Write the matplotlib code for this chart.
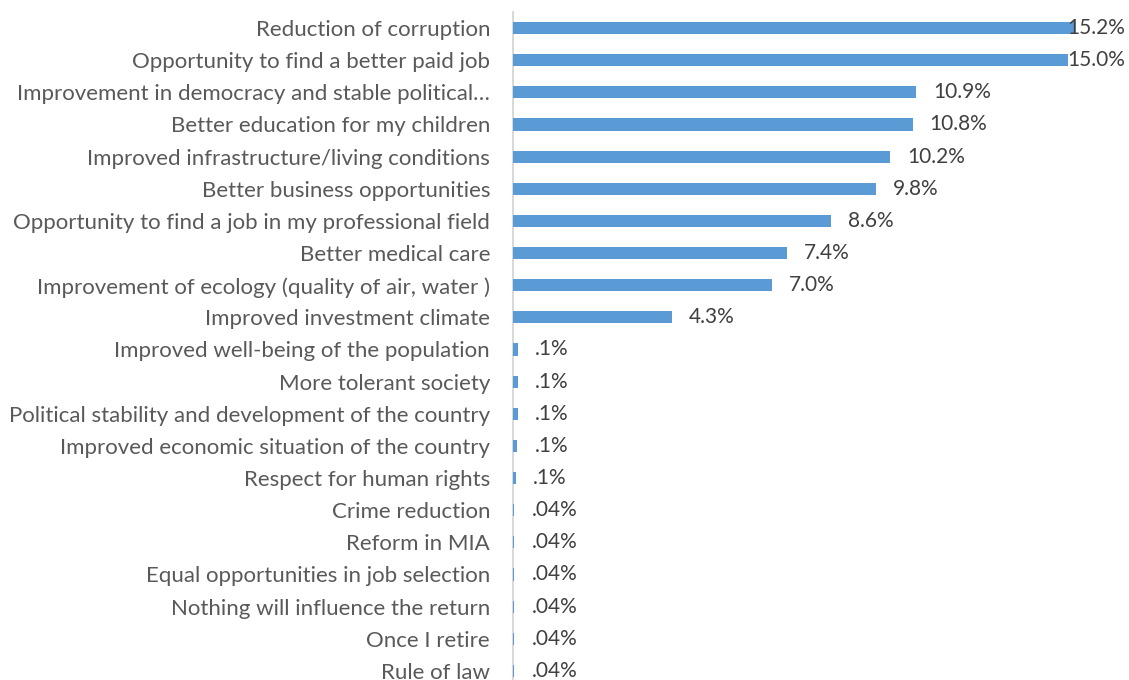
import matplotlib.pyplot as plt

labels = ["Reduction of corruption",
          "Opportunity to find a better paid job",
          "Improvement in democracy and stable political\u2026",
          "Better education for my children",
          "Improved infrastructure/living conditions",
          "Better business opportunities",
          "Opportunity to find a job in my professional field",
          "Better medical care",
          "Improvement of ecology (quality of air, water )",
          "Improved investment climate",
          "Improved well-being of the population",
          "More tolerant society",
          "Political stability and development of the country",
          "Improved economic situation of the country",
          "Respect for human rights",
          "Crime reduction",
          "Reform in MIA",
          "Equal opportunities in job selection",
          "Nothing will influence the return",
          "Once I retire",
          "Rule of law"]
values = [15.2, 15.0, 10.9, 10.8, 10.2, 9.8, 8.6, 7.4, 7.0, 4.3,
          0.14, 0.14, 0.14, 0.12, 0.08,
          0.04, 0.04, 0.04, 0.04, 0.04, 0.04]
value_text = ["15.2%", "15.0%", "10.9%", "10.8%", "10.2%", "9.8%", "8.6%",
              "7.4%", "7.0%", "4.3%", ".1%", ".1%", ".1%", ".1%", ".1%",
              ".04%", ".04%", ".04%", ".04%", ".04%", ".04%"]

plt.rcParams['font.family'] = ['Lato', 'DejaVu Sans']

fig = plt.figure(figsize=(11.29, 6.8), dpi=100)
ax = fig.add_axes([513/1129, -7/680, 616/1129, 675/680])

ypos = list(range(len(labels)))
ax.barh(ypos, values, height=0.38, color="#5B9BD5", zorder=3)
ax.set_xlim(0, 616/37)
ax.set_ylim(len(labels) - 0.5, -0.5)

for y, v, t in zip(ypos, values, value_text):
    x = min(v + 17/37, 554/37)
    ax.text(x, y, t, va="center", ha="left", fontsize=15, color="#404040")

ax.set_yticks(ypos)
ax.set_yticklabels(labels, fontsize=16, color="#595959")
ax.tick_params(axis="y", length=0, pad=16.5)
ax.set_xticks([])
for s in ["top", "right", "bottom"]:
    ax.spines[s].set_visible(False)
ax.spines["left"].set_color("#D9D9D9")
ax.spines["left"].set_linewidth(1.5)
ax.spines["left"].set_zorder(1)

fig.savefig("out.png", dpi=100)
